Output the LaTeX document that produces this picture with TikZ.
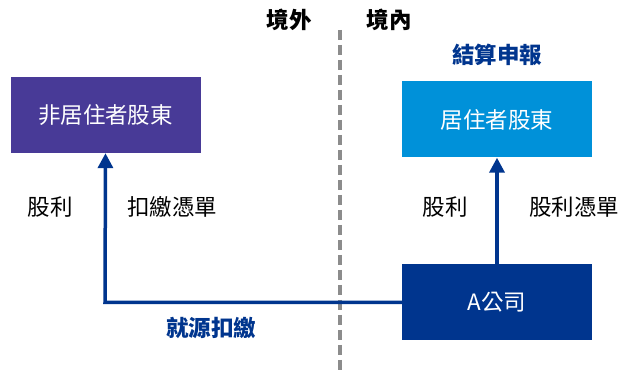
\documentclass[tikz,border=0pt]{standalone}
\usepackage{fontspec}
\setmainfont{Noto Sans CJK TC}
\usetikzlibrary{arrows.meta}
\definecolor{purplebox}{HTML}{483A97}
\definecolor{skybox}{HTML}{0091D9}
\definecolor{navybox}{HTML}{00358E}
\definecolor{dashgray}{HTML}{8C8C8C}
\begin{document}
\begin{tikzpicture}[x=1pt,y=-1pt,
  box/.style={minimum width=190pt,minimum height=76pt,inner sep=0pt,text=white,font=\fontsize{22.5}{22.5}\selectfont},
  lbl/.style={inner sep=0pt,font=\fontsize{22.5}{22.5}\selectfont},
  bold/.style={inner sep=0pt,font=\fontsize{22.5}{22.5}\selectfont\bfseries},
  conn/.style={draw=navybox,line width=3.5pt},
  tip/.style={-{Triangle[length=15pt,width=15pt]}}]
\useasboundingbox (0,0) rectangle (633,371);
\draw[dashgray,line width=3.5pt,dash pattern=on 10pt off 5pt] (340,30) coordinate (dtop) -- (340,371) coordinate (dbot);
\node[bold] (out) at (289,20) {境外};
\node[bold] (in) at (389,20) {境內};
\node[bold,text=navybox] (rep) at (497,55) {結算申報};
\node[box,fill=purplebox] (nr) at (105.5,115) {非居住者股東};
\node[box,fill=skybox] (r) at (497,119.5) {居住者股東};
\node[box,fill=navybox] (a) at (497,302.5) {A公司};
\coordinate (corner) at (105,302.5);
\draw[conn,tip] (a.west) -- (corner) -- (nr.south);
\draw[conn,tip] (a.north) -- (r.south);
\node[lbl] (d1) at (50,207) {股利};
\node[lbl] (w1) at (172,207) {扣繳憑單};
\node[lbl] (d2) at (445,207) {股利};
\node[lbl] (w2) at (574,207) {股利憑單};
\node[bold,text=navybox] (ws) at (211,328) {就源扣繳};
\end{tikzpicture}
\end{document}
